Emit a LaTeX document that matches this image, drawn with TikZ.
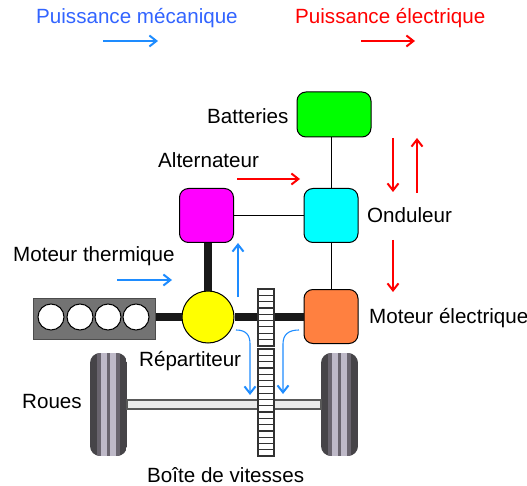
\documentclass[tikz,border=0pt]{standalone}
\usepackage{fontspec}
\setmainfont{Liberation Sans}
\usetikzlibrary{arrows.meta}
\definecolor{blu}{RGB}{30,140,255}
\definecolor{headblue}{RGB}{50,100,255}
\definecolor{org}{RGB}{255,128,64}
\definecolor{pgreen}{RGB}{0,255,0}
\definecolor{pcyan}{RGB}{0,255,255}
\definecolor{pmag}{RGB}{255,0,255}
\definecolor{pyel}{RGB}{255,255,0}
\definecolor{pred}{RGB}{255,0,0}
\definecolor{wdark}{RGB}{70,68,72}
\definecolor{wmid}{RGB}{105,100,110}
\definecolor{wlight}{RGB}{190,185,200}
\tikzset{
  x=1pt,y=-1pt,
  box/.style={draw=black,line width=1pt,rounded corners=9pt,minimum width=54pt,minimum height=54pt,inner sep=0pt},
  thin link/.style={draw=black,line width=1pt},
  shaft/.style={draw=black!90,line width=8.5pt},
  flow/.style={line width=1.1pt,-{Straight Barb[length=7pt,width=11pt,line width=2pt]}},
  bluef/.style={flow,draw=blu},
  redf/.style={flow,draw=pred},
  lab/.style={font=\fontsize{20.6}{22}\selectfont,inner sep=0pt,anchor=base west},
  cyl/.style={circle,draw=black,fill=white,line width=1pt,minimum size=26pt,inner sep=0pt},
  gearl/.style={draw=black!80,line width=1.2pt},
}
\newcommand{\wheel}[1]{%
  \begin{scope}
    \clip[rounded corners=10pt] (#1,353) rectangle (#1+37,456);
    \fill[wdark] (#1,353) rectangle (#1+37,456);
    \fill[wmid] (#1+7,353) rectangle (#1+30,456);
    \fill[wlight] (#1+11,353) rectangle (#1+17,456);
    \fill[wlight] (#1+20,353) rectangle (#1+26,456);
    \fill[wmid] (#1+17,353) rectangle (#1+20,456);
  \end{scope}}
\begin{document}
\begin{tikzpicture}
\useasboundingbox (0,0) rectangle (527,486);
% wheels and axle
\wheel{90}
\wheel{321}
\node[draw=black!65,fill=black!8,line width=1.5pt,minimum width=194pt,minimum height=9pt,inner sep=0pt] (axle) at (224,404.5) {};
% engine
\node[draw=black!70,fill=black!55,line width=1pt,minimum width=122pt,minimum height=41pt,inner sep=0pt] (engine) at (94,318.5) {};
\node[cyl] (c1) at (51,317) {};
\node[cyl] (c2) at (80,317) {};
\node[cyl] (c3) at (108,317) {};
\node[cyl] (c4) at (136,317) {};
% boxes
\node[box,fill=pgreen,minimum width=74pt,minimum height=45pt] (bat) at (334,114.5) {};
\node[box,fill=pcyan] (ond) at (331,215.5) {};
\node[box,fill=pmag] (alt) at (206.5,215.5) {};
\node[box,fill=org] (mot) at (331,316.5) {};
\node[circle,draw=black,fill=pyel,line width=1pt,minimum size=52pt,inner sep=0pt] (rep) at (208,317) {};
% links
\draw[thin link] (bat.south -| ond.north) -- (ond.north);
\draw[thin link] (ond.south) -- (mot.north);
\draw[thin link] (alt.east) -- (ond.west);
\draw[shaft] (engine.east |- rep.west) -- (rep.west);
\draw[shaft] (rep.north |- alt.south) -- (rep.north);
\draw[shaft] (rep.east) -- (rep.east -| mot.west);
% gear
\fill[white] (258,289) rectangle (274,346);
\fill[white] (258,349) rectangle (274,456);
\draw[gearl] (258,289) rectangle (274,346);
\draw[gearl] (258,349) rectangle (274,456);
\foreach \i in {0,...,8}{\draw[gearl] (258,295.3+6.3*\i) -- (274,295.3+6.3*\i);}
\foreach \i in {0,...,16}{\draw[gearl] (258,355.3+6.3*\i) -- (274,355.3+6.3*\i);}
% flows
\coordinate (h1a) at (103,41); \coordinate (h1b) at (158,41);
\coordinate (h2a) at (361,41); \coordinate (h2b) at (415,41);
\draw[bluef] (h1a) -- (h1b);
\draw[redf] (h2a) -- (h2b);
\draw[redf] (237,179) -- (300,179);
\draw[redf] (393,138) -- (393,192);
\draw[redf] (417,193) -- (417,138);
\draw[redf] (393,240) -- (393,292);
\draw[bluef] (117,280) -- (172,280);
\draw[bluef] (238,297) -- (238,243);
\draw[bluef] (236,330) .. controls (246,330) and (250,335) .. (250,344) -- (250,395);
\draw[bluef] (299,330) .. controls (288,330) and (283,335) .. (283,344) -- (283,394);
% labels
\node[lab,text=headblue] (t1) at (36,24) {Puissance mécanique};
\node[lab,text=pred] (t2) at (295,24) {Puissance électrique};
\node[lab] (t3) at (207,123.5) {Batteries};
\node[lab] (t4) at (158,168) {Alternateur};
\node[lab] (t5) at (367,222.5) {Onduleur};
\node[lab] (t6) at (13,261.5) {Moteur thermique};
\node[lab] (t7) at (369,323) {Moteur électrique};
\node[lab] (t8) at (139,366) {Répartiteur};
\node[lab] (t9) at (22,408) {Roues};
\node[lab] (t10) at (147,482) {Boîte de vitesses};
\end{tikzpicture}
\end{document}
